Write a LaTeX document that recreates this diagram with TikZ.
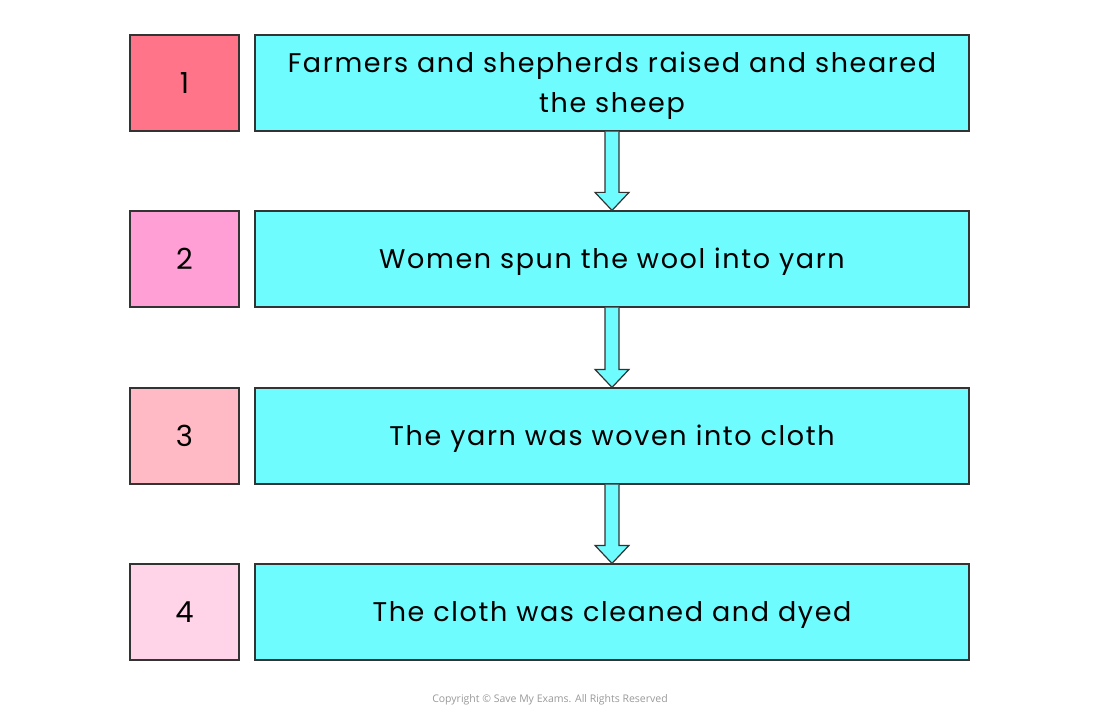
\documentclass[tikz,border=0pt]{standalone}
\usepackage{fontspec}
\setmainfont{Poppins}[LetterSpace=6,WordSpace=1.25]
\newfontfamily\copyfont{Open Sans}
\usetikzlibrary{calc}
\definecolor{cyanbox}{HTML}{6EFCFF}
\definecolor{edge}{HTML}{333333}
\definecolor{numA}{HTML}{FF7489}
\definecolor{numB}{HTML}{FF9FD5}
\definecolor{numC}{HTML}{FFBAC5}
\definecolor{numD}{HTML}{FFD3E8}
\tikzset{
  numbox/.style={draw=edge, line width=1.2pt, minimum width=109pt, minimum height=96pt, inner sep=0pt, font=\fontsize{29}{32}\selectfont},
  stepbox/.style={draw=edge, fill=cyanbox, line width=1.2pt, minimum width=714pt, minimum height=96pt, inner sep=0pt},
  steptext/.style={align=center, text width=700pt, inner sep=0pt, yshift=-3pt, font=\fontsize{27}{40}\selectfont},
  flowarrow/.style={draw=edge, fill=cyanbox, line width=1.2pt, line join=miter}
}
\begin{document}
\begin{tikzpicture}[x=1pt,y=-1pt]
\useasboundingbox (0,0) rectangle (1100,719);
\node[numbox, fill=numA] (n1) at (184.5,83) {1};
\node[numbox, fill=numB] (n2) at (184.5,259) {2};
\node[numbox, fill=numC] (n3) at (184.5,436) {3};
\node[numbox, fill=numD] (n4) at (184.5,612) {4};
\node[stepbox, label={[steptext]center:Farmers and shepherds raised and sheared\\the sheep}] (s1) at (612,83) {};
\node[stepbox, label={[steptext]center:Women spun the wool into yarn}] (s2) at (612,259) {};
\node[stepbox, label={[steptext]center:The yarn was woven into cloth}] (s3) at (612,436) {};
\node[stepbox, label={[steptext]center:The cloth was cleaned and dyed}] (s4) at (612,612) {};
\foreach \a/\b in {s1/s2,s2/s3,s3/s4}{
  \draw[flowarrow] ($(\a.south)+(-7,0)$) -- ($(\b.north)+(-7,-18)$) -- ($(\b.north)+(-17,-18)$) -- (\b.north) -- ($(\b.north)+(17,-18)$) -- ($(\b.north)+(7,-18)$) -- ($(\a.south)+(7,0)$);
}
\node[font=\copyfont\fontsize{10.5}{12}\selectfont, text=black!40] (cp) at (550,700) {Copyright \textcopyright\ Save My Exams. All Rights Reserved};
\end{tikzpicture}
\end{document}
